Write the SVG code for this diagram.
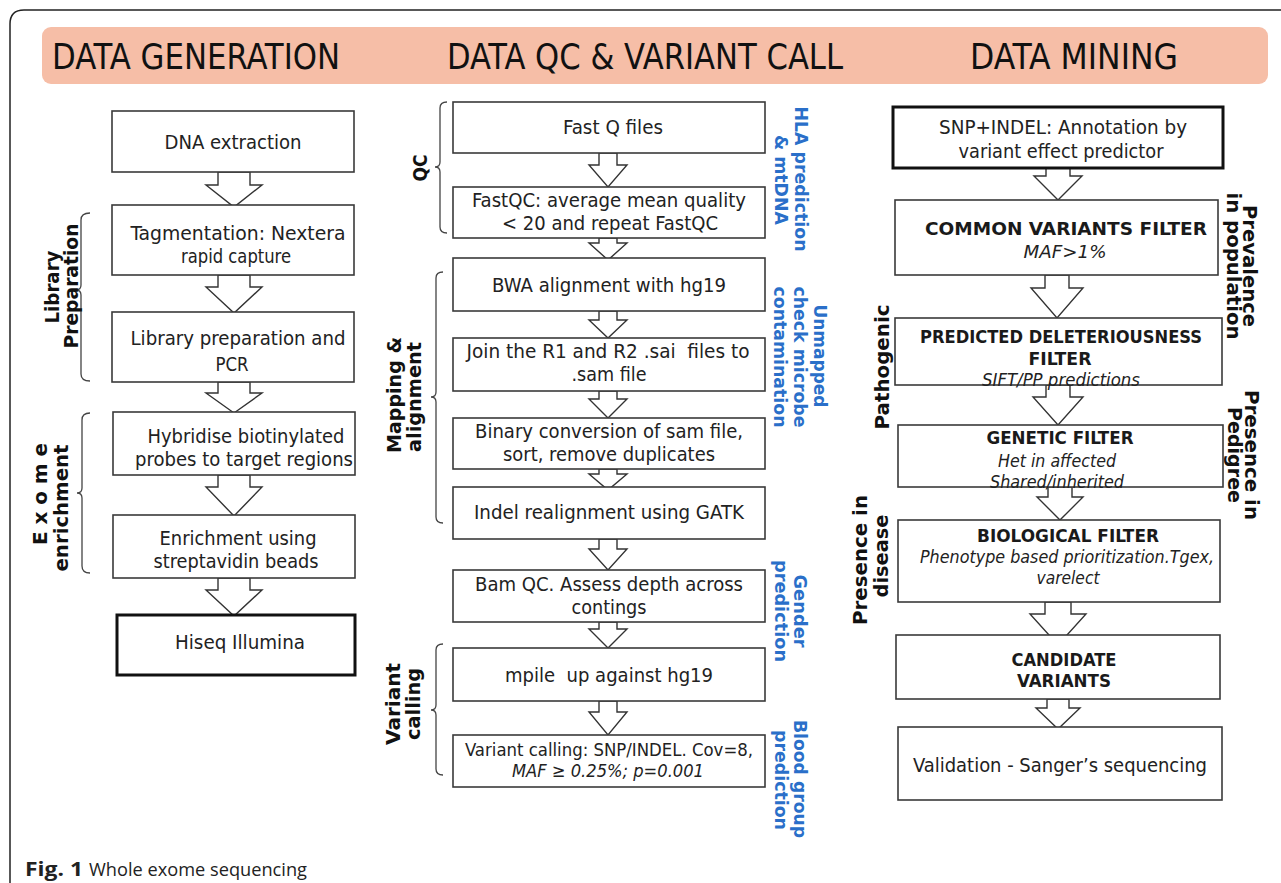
<svg xmlns="http://www.w3.org/2000/svg" width="1281" height="883" viewBox="0 0 1281 883">
<defs>
<style>
.box{fill:#fff;stroke:#3a3a3a;stroke-width:1.6}
.thick{fill:#fff;stroke:#111;stroke-width:3}
.arr{fill:#fff;stroke:#333;stroke-width:1.4;stroke-linejoin:miter}
.br{fill:none;stroke:#444;stroke-width:1.3}
.t{font-family:"DejaVu Sans Condensed","DejaVu Sans",sans-serif;font-size:20px;fill:#222;text-anchor:middle}
.m{font-size:19px}
.s{font-size:18px}
.b{font-weight:bold;font-size:18px;fill:#1a1a1a}
.i{font-style:italic;font-size:18px}
.lab{font-family:"DejaVu Sans",sans-serif;font-weight:bold;font-size:20px;fill:#111;text-anchor:middle}
.blue{font-size:17px;fill:#2a6fc9}
.hdr{font-family:"DejaVu Sans Condensed","DejaVu Sans",sans-serif;font-size:35px;fill:#111}
.cap{font-family:"Open Sans",sans-serif;font-size:19px;fill:#222}
</style>
</defs>
<rect width="1281" height="883" fill="#fff"/>
<path d="M10,883 L10,24 Q10,10 24,10 L1281,10" fill="none" stroke="#222" stroke-width="1.5"/>
<g id="header">
<rect x="42" y="27" width="1226" height="57" rx="9" fill="#F6BEA7"/>
<text class="hdr" x="52" y="69" textLength="288" lengthAdjust="spacingAndGlyphs">DATA GENERATION</text>
<text class="hdr" x="447" y="69" textLength="396" lengthAdjust="spacingAndGlyphs">DATA QC &amp; VARIANT CALL</text>
<text class="hdr" x="970" y="69" textLength="208" lengthAdjust="spacingAndGlyphs">DATA MINING</text>
</g>
<g id="connectors">
<polygon class="arr" points="218,172 250,172 250,185 262,185 234,207 206,185 218,185"/>
<polygon class="arr" points="218,275 250,275 250,287 262,287 234,313 206,287 218,287"/>
<polygon class="arr" points="218,382 250,382 250,393 262,393 234,413 206,393 218,393"/>
<polygon class="arr" points="218,475 250,475 250,487 262,487 234,516 206,487 218,487"/>
<polygon class="arr" points="218,578 250,578 250,590 262,590 234,616 206,590 218,590"/>
<polygon class="arr" points="599,153 617,153 617,165 627,165 608,187 589,165 599,165"/>
<polygon class="arr" points="599,238 617,238 617,243 627,243 608,260 589,243 599,243"/>
<polygon class="arr" points="599,311 617,311 617,320 627,320 608,338 589,320 599,320"/>
<polygon class="arr" points="599,391 617,391 617,399 627,399 608,418 589,399 599,399"/>
<polygon class="arr" points="599,469 617,469 617,474 627,474 608,490 589,474 599,474"/>
<polygon class="arr" points="599,539 617,539 617,549 627,549 608,570 589,549 599,549"/>
<polygon class="arr" points="599,622 617,622 617,629 627,629 608,648 589,629 599,629"/>
<polygon class="arr" points="599,701 617,701 617,712 627,712 608,735 589,712 599,712"/>
<polygon class="arr" points="1046,168 1070,168 1070,176 1082,176 1058,200 1034,176 1046,176"/>
<polygon class="arr" points="1045,275 1069,275 1069,288 1083,288 1057,318 1031,288 1045,288"/>
<polygon class="arr" points="1046,385 1070,385 1070,397 1083,397 1058,425 1033,397 1046,397"/>
<polygon class="arr" points="1048,487 1072,487 1072,497 1083,497 1060,520 1037,497 1048,497"/>
<polygon class="arr" points="1045,602 1071,602 1071,614 1086,614 1058,645 1030,614 1045,614"/>
<polygon class="arr" points="1047,699 1069,699 1069,708 1080,708 1058,729 1036,708 1047,708"/>
</g>
<g id="brackets">
<path class="br" d="M90,213 Q81,213 81,220 L81,285 Q81,290 76,290 Q81,290 81,295 L81,374 Q81,381 90,381"/>
<path class="br" d="M90,413 Q82,413 82,420 L82,488 Q82,493 77,493 Q82,493 82,498 L82,566 Q82,573 90,573"/>
<path class="br" d="M447,102 Q440,102 440,108 L440,162 Q440,167 435,167 Q440,167 440,172 L440,227 Q440,233 447,233"/>
<path class="br" d="M443,272 Q436,272 436,278 L436,392 Q436,397 431,397 Q436,397 436,402 L436,517 Q436,523 443,523"/>
<path class="br" d="M443,644 Q436,644 436,650 L436,705 Q436,710 431,710 Q436,710 436,715 L436,769 Q436,775 443,775"/>
</g>
<g id="side-labels">
<text class="lab" transform="translate(59,287) rotate(-90)" textLength="73" lengthAdjust="spacingAndGlyphs">Library</text>
<text class="lab" transform="translate(78,286) rotate(-90)" textLength="125" lengthAdjust="spacingAndGlyphs">Preparation</text>
<text class="lab" transform="translate(47,494) rotate(-90)" textLength="102">Exome</text>
<text class="lab" transform="translate(68,508) rotate(-90)" textLength="127" lengthAdjust="spacingAndGlyphs">enrichment</text>
<text class="lab" transform="translate(427,168) rotate(-90)" textLength="27" lengthAdjust="spacingAndGlyphs">QC</text>
<text class="lab" transform="translate(401,395) rotate(-90)" textLength="116" lengthAdjust="spacingAndGlyphs">Mapping &amp;</text>
<text class="lab" transform="translate(421,397) rotate(-90)" textLength="110" lengthAdjust="spacingAndGlyphs">alignment</text>
<text class="lab" transform="translate(400,704) rotate(-90)" textLength="82" lengthAdjust="spacingAndGlyphs">Variant</text>
<text class="lab" transform="translate(420,704) rotate(-90)" textLength="72" lengthAdjust="spacingAndGlyphs">calling</text>
<text class="lab blue" transform="translate(795,179) rotate(90)" textLength="145" lengthAdjust="spacingAndGlyphs">HLA prediction</text>
<text class="lab blue" transform="translate(775,180) rotate(90)" textLength="90" lengthAdjust="spacingAndGlyphs">&amp; mtDNA</text>
<text class="lab blue" transform="translate(814,356) rotate(90)" textLength="103" lengthAdjust="spacingAndGlyphs">Unmapped</text>
<text class="lab blue" transform="translate(794,357) rotate(90)" textLength="141" lengthAdjust="spacingAndGlyphs">check microbe</text>
<text class="lab blue" transform="translate(774,357) rotate(90)" textLength="141" lengthAdjust="spacingAndGlyphs">contamination</text>
<text class="lab blue" transform="translate(794,611) rotate(90)" textLength="73" lengthAdjust="spacingAndGlyphs">Gender</text>
<text class="lab blue" transform="translate(775,611) rotate(90)" textLength="102" lengthAdjust="spacingAndGlyphs">prediction</text>
<text class="lab blue" transform="translate(794,779) rotate(90)" textLength="118" lengthAdjust="spacingAndGlyphs">Blood group</text>
<text class="lab blue" transform="translate(775,780) rotate(90)" textLength="100" lengthAdjust="spacingAndGlyphs">prediction</text>
<text class="lab" transform="translate(1243,266) rotate(90)" textLength="122" lengthAdjust="spacingAndGlyphs">Prevalence</text>
<text class="lab" transform="translate(1227,266) rotate(90)" textLength="147" lengthAdjust="spacingAndGlyphs">in population</text>
<text class="lab" transform="translate(1245,455) rotate(90)" textLength="130" lengthAdjust="spacingAndGlyphs">Presence in</text>
<text class="lab" transform="translate(1228,455) rotate(90)" textLength="96" lengthAdjust="spacingAndGlyphs">Pedigree</text>
<text class="lab" transform="translate(889,367) rotate(-90)" textLength="125" lengthAdjust="spacingAndGlyphs">Pathogenic</text>
<text class="lab" transform="translate(867,560) rotate(-90)" textLength="130" lengthAdjust="spacingAndGlyphs">Presence in</text>
<text class="lab" transform="translate(888,556) rotate(-90)" textLength="83" lengthAdjust="spacingAndGlyphs">disease</text>
</g>
<g id="dna-extraction"><rect class="box" x="112" y="111" width="242" height="61"/>
<text class="t" x="233" y="149" textLength="137" lengthAdjust="spacingAndGlyphs">DNA extraction</text></g>
<g id="tagmentation"><rect class="box" x="112" y="205" width="242" height="70"/>
<text class="t" x="238" y="240" textLength="215" lengthAdjust="spacingAndGlyphs">Tagmentation: Nextera</text>
<text class="t" x="236" y="263" textLength="110" lengthAdjust="spacingAndGlyphs">rapid capture</text></g>
<g id="library-prep"><rect class="box" x="112" y="312" width="242" height="70"/>
<text class="t" x="238" y="345" textLength="215" lengthAdjust="spacingAndGlyphs">Library preparation and</text>
<text class="t" x="232" y="371" textLength="33" lengthAdjust="spacingAndGlyphs">PCR</text></g>
<g id="hybridise"><rect class="box" x="113" y="412" width="242" height="63"/>
<text class="t" x="246" y="443" textLength="197" lengthAdjust="spacingAndGlyphs">Hybridise biotinylated</text>
<text class="t" x="244" y="466" textLength="218" lengthAdjust="spacingAndGlyphs">probes to target regions</text></g>
<g id="enrichment"><rect class="box" x="113" y="515" width="242" height="63"/>
<text class="t" x="238" y="545" textLength="157" lengthAdjust="spacingAndGlyphs">Enrichment using</text>
<text class="t" x="236" y="568" textLength="165" lengthAdjust="spacingAndGlyphs">streptavidin beads</text></g>
<g id="hiseq"><rect class="thick" x="117" y="615" width="238" height="60"/>
<text class="t" x="240" y="649" textLength="130" lengthAdjust="spacingAndGlyphs">Hiseq Illumina</text></g>
<g id="fastq"><rect class="box" x="453" y="102" width="312" height="51"/>
<text class="t" x="613" y="134" textLength="100" lengthAdjust="spacingAndGlyphs">Fast Q files</text></g>
<g id="fastqc"><rect class="box" x="453" y="187" width="312" height="51"/>
<text class="t m" x="609" y="207" textLength="274" lengthAdjust="spacingAndGlyphs">FastQC: average mean quality</text>
<text class="t m" x="610" y="230" textLength="216" lengthAdjust="spacingAndGlyphs">&lt; 20 and repeat FastQC</text></g>
<g id="bwa"><rect class="box" x="453" y="258" width="312" height="53"/>
<text class="t" x="609" y="292" textLength="234" lengthAdjust="spacingAndGlyphs">BWA alignment with hg19</text></g>
<g id="join"><rect class="box" x="453" y="338" width="312" height="53"/>
<text class="t m" x="608" y="358" textLength="283" lengthAdjust="spacingAndGlyphs" xml:space="preserve">Join the R1 and R2 .sai  files to</text>
<text class="t m" x="609" y="381" textLength="75" lengthAdjust="spacingAndGlyphs">.sam file</text></g>
<g id="binary"><rect class="box" x="453" y="418" width="312" height="51"/>
<text class="t m" x="609" y="438" textLength="268" lengthAdjust="spacingAndGlyphs">Binary conversion of sam file,</text>
<text class="t m" x="609" y="461" textLength="212" lengthAdjust="spacingAndGlyphs">sort, remove duplicates</text></g>
<g id="indel"><rect class="box" x="453" y="487" width="312" height="52"/>
<text class="t" x="609" y="519" textLength="270" lengthAdjust="spacingAndGlyphs">Indel realignment using GATK</text></g>
<g id="bamqc"><rect class="box" x="453" y="570" width="312" height="52"/>
<text class="t m" x="609" y="591" textLength="268" lengthAdjust="spacingAndGlyphs">Bam QC. Assess depth across</text>
<text class="t m" x="609" y="614" textLength="75" lengthAdjust="spacingAndGlyphs">contings</text></g>
<g id="mpile"><rect class="box" x="453" y="648" width="312" height="53"/>
<text class="t" x="609" y="682" textLength="208" lengthAdjust="spacingAndGlyphs" xml:space="preserve">mpile  up against hg19</text></g>
<g id="variant-calling"><rect class="box" x="453" y="735" width="312" height="52"/>
<text class="t s" x="609" y="756" textLength="288" lengthAdjust="spacingAndGlyphs">Variant calling: SNP/INDEL. Cov=8,</text>
<text class="t i" x="608" y="777" textLength="192" lengthAdjust="spacingAndGlyphs">MAF ≥ 0.25%; p=0.001</text></g>
<g id="annotation"><rect class="thick" x="893" y="107" width="330" height="61"/>
<text class="t m" x="1063" y="134" textLength="248" lengthAdjust="spacingAndGlyphs">SNP+INDEL: Annotation by</text>
<text class="t m" x="1061" y="158" textLength="205" lengthAdjust="spacingAndGlyphs">variant effect predictor</text></g>
<g id="common-filter"><rect class="box" x="895" y="200" width="323" height="75"/>
<text class="t b" x="1066" y="235" textLength="282" lengthAdjust="spacingAndGlyphs">COMMON VARIANTS FILTER</text>
<text class="t i" x="1065" y="258" textLength="83" lengthAdjust="spacingAndGlyphs">MAF&gt;1%</text></g>
<g id="deleterious-filter"><rect class="box" x="895" y="318" width="327" height="67"/>
<text class="t b" x="1061" y="343" textLength="282" lengthAdjust="spacingAndGlyphs">PREDICTED DELETERIOUSNESS</text>
<text class="t b" x="1060" y="365" textLength="63" lengthAdjust="spacingAndGlyphs">FILTER</text>
<text class="t i" x="1061" y="386" textLength="158" lengthAdjust="spacingAndGlyphs">SIFT/PP predictions</text></g>
<g id="genetic-filter"><rect class="box" x="898" y="425" width="325" height="62"/>
<text class="t b" x="1060" y="444" textLength="147" lengthAdjust="spacingAndGlyphs">GENETIC FILTER</text>
<text class="t i" x="1057" y="467" textLength="118" lengthAdjust="spacingAndGlyphs">Het in affected</text>
<text class="t i" x="1057" y="488" textLength="134" lengthAdjust="spacingAndGlyphs">Shared/inherited</text></g>
<g id="biological-filter"><rect class="box" x="898" y="520" width="322" height="82"/>
<text class="t b" x="1068" y="542" textLength="182" lengthAdjust="spacingAndGlyphs">BIOLOGICAL FILTER</text>
<text class="t i" x="1067" y="563" textLength="294" lengthAdjust="spacingAndGlyphs">Phenotype based prioritization.Tgex,</text>
<text class="t i" x="1068" y="584" textLength="63" lengthAdjust="spacingAndGlyphs">varelect</text></g>
<g id="candidate"><rect class="box" x="896" y="635" width="324" height="64"/>
<text class="t b" x="1064" y="666" textLength="105" lengthAdjust="spacingAndGlyphs">CANDIDATE</text>
<text class="t b" x="1064" y="687" textLength="94" lengthAdjust="spacingAndGlyphs">VARIANTS</text></g>
<g id="validation"><rect class="box" x="898" y="727" width="324" height="73"/>
<text class="t" x="1060" y="772" textLength="294" lengthAdjust="spacingAndGlyphs">Validation - Sanger’s sequencing</text></g>
<g id="caption">
<text class="cap" x="25" y="876" font-weight="bold" textLength="58" lengthAdjust="spacingAndGlyphs">Fig. 1</text>
<text class="cap" x="89" y="876" textLength="218" lengthAdjust="spacingAndGlyphs">Whole exome sequencing</text>
</g>
</svg>
